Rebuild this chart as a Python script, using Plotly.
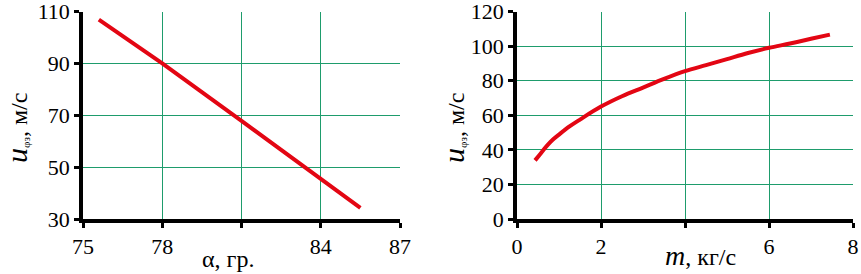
import plotly.graph_objects as go

# Left chart: u vs alpha
alpha = [75.6, 78.0, 81.0, 84.0, 85.5]
u_alpha = [106.9, 90.0, 67.8, 45.5, 34.3]
x1_ticks = [75, 78, 84, 87]
x1_unlabeled = [81]
y1_ticks = [30, 50, 70, 90, 110]

# Right chart: u vs m
m = [0.43, 0.55, 0.7, 0.85, 1.0, 1.25, 1.5, 2.0, 2.5, 3.0, 3.5, 4.0, 4.5, 5.0, 5.5, 6.0, 6.5, 7.0, 7.45]
u_m = [33.9, 37.5, 42.0, 45.8, 48.8, 53.5, 57.5, 65.0, 71.0, 76.0, 81.0, 85.5, 89.0, 92.5, 96.0, 99.0, 101.5, 104.2, 106.6]
x2_ticks = [0, 2, 6, 8]
x2_unlabeled = [4]
y2_ticks = [0, 20, 40, 60, 80, 100, 120]

RED = "#e30613"
GRID = "#1e9c6c"
FONT = "Liberation Serif"
W, H = 861, 274

fig = go.Figure()
fig.add_trace(go.Scatter(x=alpha, y=u_alpha, mode="lines",
                         line=dict(color=RED, width=4), xaxis="x", yaxis="y"))
fig.add_trace(go.Scatter(x=m, y=u_m, mode="lines", line_shape="spline",
                         line=dict(color=RED, width=4), xaxis="x2", yaxis="y2"))

ydom = [1 - 219 / H, 1 - 11.5 / H]
common = dict(showline=True, linecolor="black", linewidth=3.5,
              ticks="outside", ticklen=5, tickwidth=3, tickcolor="black",
              showgrid=True, gridcolor=GRID, gridwidth=1, zeroline=False,
              automargin=False, ticklabeloverflow="allow",
              tickfont=dict(family=FONT, size=22, color="black"))


def minor(vals):
    return dict(tickvals=vals, ticks="outside", ticklen=5, tickwidth=3, tickcolor="black",
                showgrid=True, gridcolor=GRID, gridwidth=1)


ytitle = "<i><span style='font-size:30px'>u</span></i><span style='font-size:16px'><sub>φз</sub></span>, м/с"

fig.update_layout(
    width=W, height=H,
    margin=dict(l=0, r=0, t=0, b=0),
    paper_bgcolor="white", plot_bgcolor="white",
    showlegend=False,
    font=dict(family=FONT, size=22, color="black"),
    xaxis=dict(domain=[83 / W, 400 / W], range=[75, 87], tickvals=x1_ticks, minor=minor(x1_unlabeled), **common),
    yaxis=dict(domain=ydom, range=[30, 110], tickvals=y1_ticks, **common),
    xaxis2=dict(domain=[517 / W, 853 / W], range=[0, 8], tickvals=x2_ticks, minor=minor(x2_unlabeled),
                anchor="y2", **common),
    yaxis2=dict(domain=ydom, range=[0, 120], tickvals=y2_ticks, anchor="x2", **common),
)

ann = dict(xref="paper", yref="paper", showarrow=False, xanchor="center", yanchor="middle",
           font=dict(family=FONT, size=24, color="black"))
fig.add_annotation(text="α, гр.", x=228 / W, y=1 - 259 / H, **ann)
fig.add_annotation(text="<i><span style='font-size:28px'>m</span></i>, кг/с", x=700 / W, y=1 - 255 / H, **ann)
fig.add_annotation(text=ytitle, x=16 / W, y=1 - 128 / H, textangle=-90, **ann)
fig.add_annotation(text=ytitle, x=453 / W, y=1 - 128 / H, textangle=-90, **ann)

fig.write_html("out.html", post_script="document.body.style.margin='0';document.body.style.overflow='hidden';",
               config={"displayModeBar": False})
